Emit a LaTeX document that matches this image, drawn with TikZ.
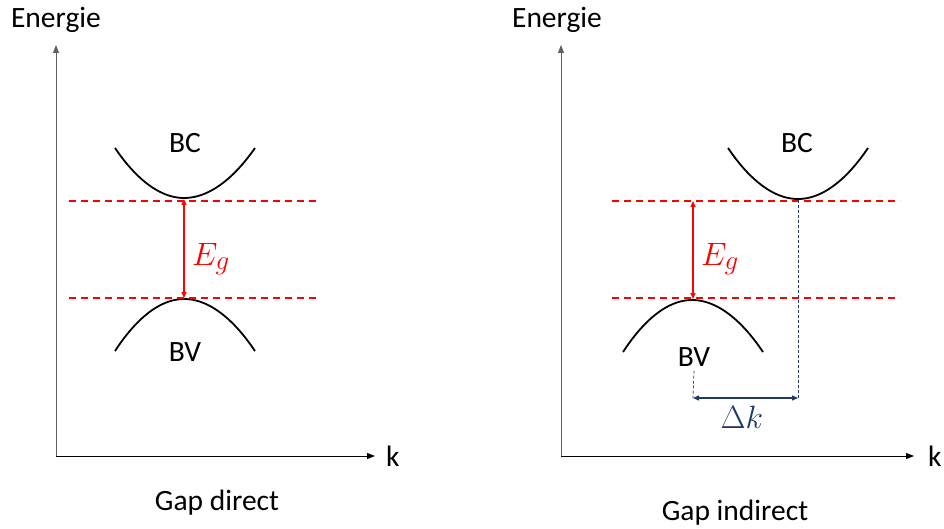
\documentclass[tikz,border=0pt]{standalone}
\usepackage{fontspec}
\setmainfont{Carlito}
\usetikzlibrary{arrows.meta}
\definecolor{navy}{HTML}{203864}
\definecolor{axgray}{HTML}{606060}
\newcommand{\bigmath}[1]{\scalebox{1.3}{$#1$}}
\begin{document}
\begin{tikzpicture}[x=1pt,y=-1pt,
  lbl/.style={font=\fontsize{29.5}{34}\selectfont, inner sep=0pt},
  axis/.style={-{Triangle[length=8pt,width=6pt]}, line width=0.8pt},
  band/.style={line width=1.8pt},
  level/.style={red, line width=1.5pt, dash pattern=on 7pt off 5pt},
  gap/.style={red, line width=1.3pt, {Triangle[length=6pt,width=5pt]}-{Triangle[length=6pt,width=5pt]}},
  guide/.style={navy, line width=0.7pt, dash pattern=on 3pt off 2pt},
  dk/.style={navy, line width=1.3pt, {Triangle[length=6pt,width=5pt]}-{Triangle[length=6pt,width=5pt]}}
]
\useasboundingbox (0,0) rectangle (944,529);

% ---------- left: direct gap ----------
\coordinate (O1) at (56,456);
\coordinate (Y1) at (56,45);
\coordinate (X1) at (375,456);
\draw[axis, draw=axgray, fill=black] (O1) -- (Y1);
\draw[axis] (O1) -- (X1);
\node[lbl] (E1) at (56,20) {Energie};
\node[lbl, anchor=west] (k1) at (386,456) {k};
\node[lbl] (G1) at (217,503) {Gap direct};

\draw[band] (115,148) parabola bend (184,198) (255,148);
\draw[band] (115,351) parabola bend (184,299) (255,351);
\coordinate (c1) at (184,199);
\coordinate (v1) at (184,298);
\node[lbl] (BC1) at (185,143) {BC};
\node[lbl] (BV1) at (185,352) {BV};

\draw[level] (69,201) -- (317,201);
\draw[level] (69,298) -- (317,298);
\draw[gap] (c1) -- (v1);
\node[lbl, red, anchor=west] (Eg1) at (192,259) {\bigmath{E_g}};

% ---------- right: indirect gap ----------
\coordinate (O2) at (561,456);
\coordinate (Y2) at (561,45);
\coordinate (X2) at (914,456);
\draw[axis, draw=axgray, fill=black] (O2) -- (Y2);
\draw[axis] (O2) -- (X2);
\node[lbl] (E2) at (557,20) {Energie};
\node[lbl, anchor=west] (k2) at (928,456) {k};
\node[lbl] (G2) at (735,513) {Gap indirect};

\draw[band] (728,148) parabola bend (798,199) (868,148);
\draw[band] (623,352) parabola bend (692,300) (763,352);
\coordinate (c2) at (798,200);
\coordinate (v2) at (693,299);
\coordinate (c2v) at (693,201);
\node[lbl] (BC2) at (797,143) {BC};
\node[lbl] (BV2) at (694,357) {BV};

\draw[level] (612,201) -- (900,201);
\draw[level] (612,298) -- (900,298);
\draw[gap] (c2v) -- (v2);
\node[lbl, red, anchor=west] (Eg2) at (701,259) {\bigmath{E_g}};

\coordinate (dkL) at (693,398);
\coordinate (dkR) at (798,398);
\draw[guide] (c2) -- (dkR);
\draw[guide] ([yshift=-4pt]BV2.south) -- (dkL);
\draw[dk] (dkL) -- (dkR);
\node[lbl, navy] (DK) at (742,417) {\bigmath{\Delta k}};
\end{tikzpicture}
\end{document}
